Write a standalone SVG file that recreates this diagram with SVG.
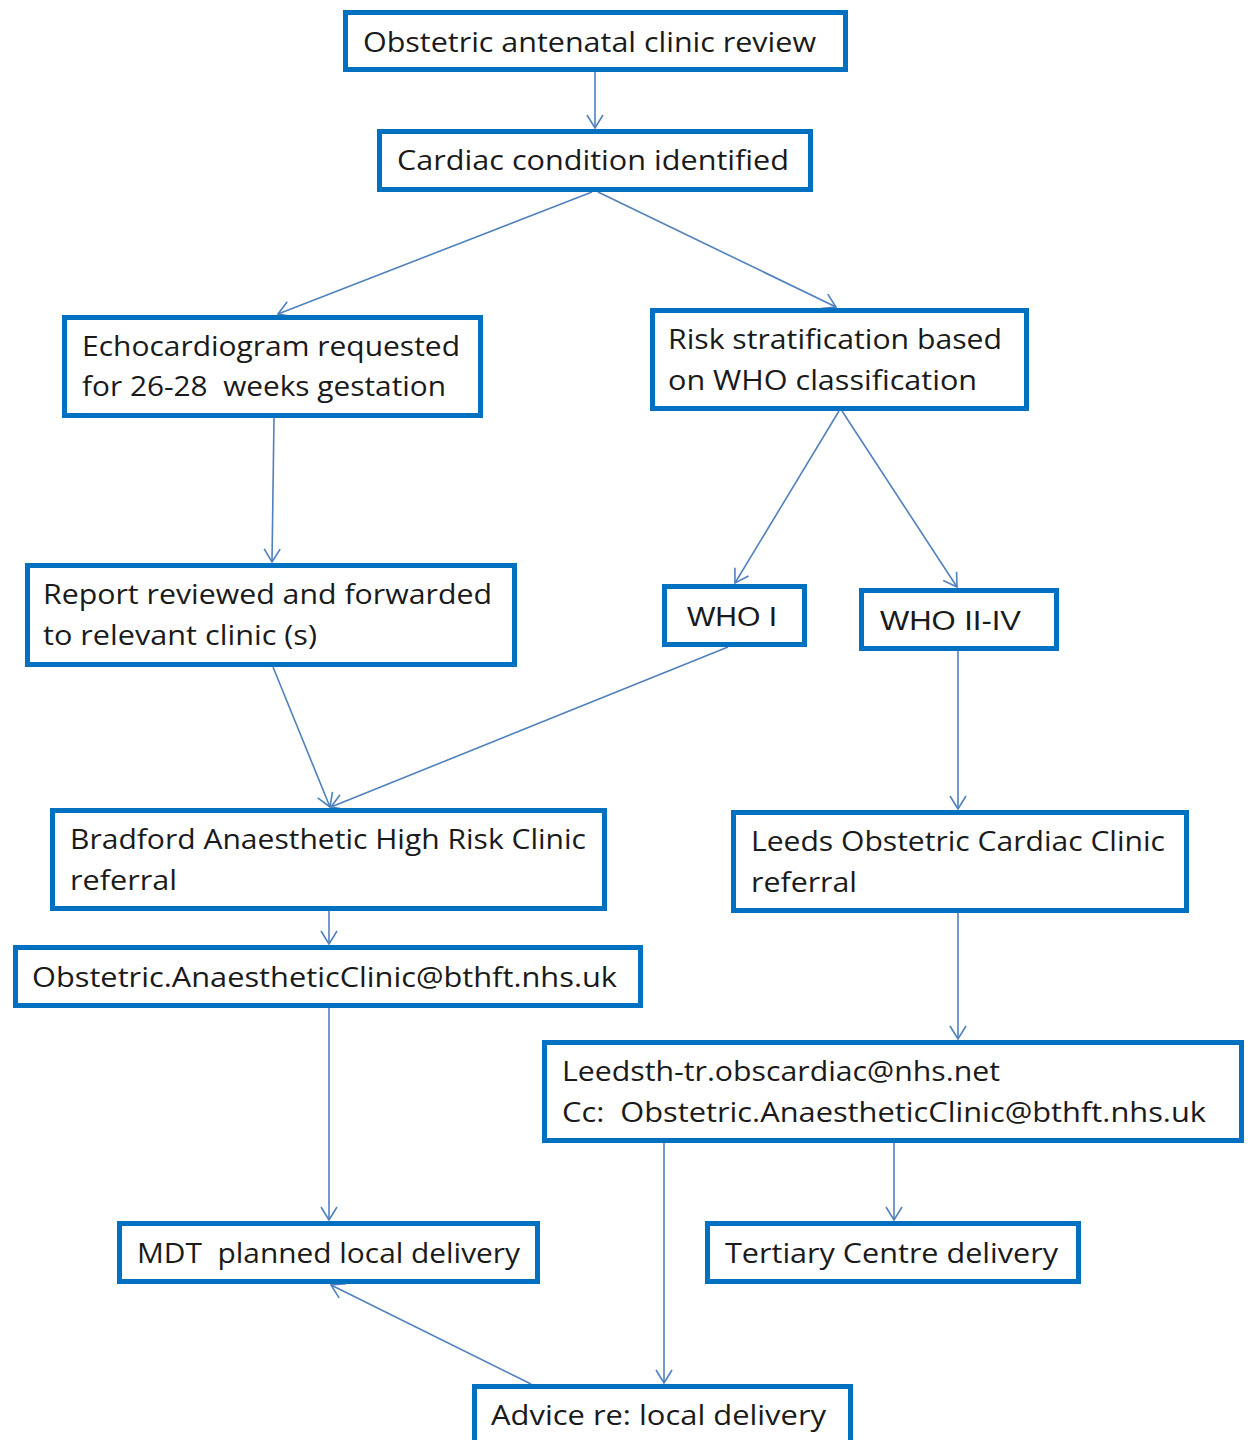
<svg xmlns="http://www.w3.org/2000/svg" width="1248" height="1440" viewBox="0 0 1248 1440">
<style>
.box{fill:#fff;stroke:#0070C0;stroke-width:5}
.t{font-family:"Open Sans","Liberation Sans",sans-serif;font-size:27px;fill:#1a1a1a}
.a{font-family:"Liberation Sans",Arial,sans-serif;font-size:27px;fill:#1a1a1a}
.c{stroke:#4F81BD;stroke-width:1.6;fill:none}
</style>
<defs>
<marker id="arr" markerUnits="userSpaceOnUse" markerWidth="16" markerHeight="18" viewBox="0 0 16 18" refX="14" refY="9" orient="auto">
<path d="M1,1 L14,9 L1,17" fill="none" stroke="#4F81BD" stroke-width="1.6"/>
</marker>
</defs>
<rect width="1248" height="1440" fill="#fff"/>
<g id="connectors">
<line class="c" x1="595" y1="72" x2="595" y2="128" marker-end="url(#arr)"/>
<line class="c" x1="592" y1="192" x2="278" y2="314" marker-end="url(#arr)"/>
<line class="c" x1="598" y1="192" x2="836" y2="307" marker-end="url(#arr)"/>
<line class="c" x1="274" y1="418" x2="272" y2="562" marker-end="url(#arr)"/>
<line class="c" x1="839" y1="411" x2="735" y2="583" marker-end="url(#arr)"/>
<line class="c" x1="842" y1="411" x2="957" y2="587" marker-end="url(#arr)"/>
<line class="c" x1="273" y1="667" x2="330" y2="807" marker-end="url(#arr)"/>
<line class="c" x1="728" y1="647" x2="331" y2="807" marker-end="url(#arr)"/>
<line class="c" x1="958" y1="651" x2="958" y2="809" marker-end="url(#arr)"/>
<line class="c" x1="329" y1="911" x2="329" y2="944" marker-end="url(#arr)"/>
<line class="c" x1="958" y1="913" x2="958" y2="1039" marker-end="url(#arr)"/>
<line class="c" x1="329" y1="1008" x2="329" y2="1220" marker-end="url(#arr)"/>
<line class="c" x1="894" y1="1143" x2="894" y2="1220" marker-end="url(#arr)"/>
<line class="c" x1="664" y1="1143" x2="664" y2="1383" marker-end="url(#arr)"/>
<line class="c" x1="531" y1="1384" x2="331" y2="1285" marker-end="url(#arr)"/>
</g>
<g id="n1"><rect class="box" x="345.5" y="12.5" width="500" height="57"/><text class="t" x="363" y="52" textLength="453" lengthAdjust="spacingAndGlyphs">Obstetric antenatal clinic review</text></g>
<g id="n2"><rect class="box" x="379.5" y="131.5" width="431" height="58"/><text class="t" x="397" y="170" textLength="392" lengthAdjust="spacingAndGlyphs">Cardiac condition identified</text></g>
<g id="n3"><rect class="box" x="64.5" y="317.5" width="416" height="98"/><text class="t" x="82" y="356" textLength="378" lengthAdjust="spacingAndGlyphs">Echocardiogram requested</text><text class="t" x="82" y="396" textLength="364" lengthAdjust="spacingAndGlyphs" xml:space="preserve">for 26-28  weeks gestation</text></g>
<g id="n4"><rect class="box" x="652.5" y="310.5" width="374" height="98"/><text class="t" x="668" y="349" textLength="334" lengthAdjust="spacingAndGlyphs">Risk stratification based</text><text class="t" x="668" y="390" textLength="309" lengthAdjust="spacingAndGlyphs">on WHO classification</text></g>
<g id="n5"><rect class="box" x="27.5" y="565.5" width="487" height="99"/><text class="t" x="43" y="604" textLength="449" lengthAdjust="spacingAndGlyphs">Report reviewed and forwarded</text><text class="t" x="43" y="645" textLength="274" lengthAdjust="spacingAndGlyphs">to relevant clinic (s)</text></g>
<g id="n6"><rect class="box" x="664.5" y="586.5" width="140" height="58"/><text class="a" x="687" y="626" textLength="90" lengthAdjust="spacingAndGlyphs">WHO I</text></g>
<g id="n7"><rect class="box" x="861.5" y="590.5" width="195" height="58"/><text class="a" x="880" y="630" textLength="141" lengthAdjust="spacingAndGlyphs">WHO II-IV</text></g>
<g id="n8"><rect class="box" x="52.5" y="810.5" width="552" height="98"/><text class="t" x="70" y="849" textLength="516" lengthAdjust="spacingAndGlyphs">Bradford Anaesthetic High Risk Clinic</text><text class="t" x="70" y="890" textLength="107" lengthAdjust="spacingAndGlyphs">referral</text></g>
<g id="n9"><rect class="box" x="733.5" y="812.5" width="453" height="98"/><text class="t" x="751" y="851" textLength="414" lengthAdjust="spacingAndGlyphs">Leeds Obstetric Cardiac Clinic</text><text class="t" x="751" y="892" textLength="106" lengthAdjust="spacingAndGlyphs">referral</text></g>
<g id="n10"><rect class="box" x="15.5" y="947.5" width="625" height="58"/><text class="t" x="32" y="987" textLength="585" lengthAdjust="spacingAndGlyphs">Obstetric.AnaestheticClinic@bthft.nhs.uk</text></g>
<g id="n11"><rect class="box" x="544.5" y="1042.5" width="697" height="98"/><text class="t" x="562" y="1081" textLength="438" lengthAdjust="spacingAndGlyphs">Leedsth-tr.obscardiac@nhs.net</text><text class="t" x="562" y="1122" textLength="644" lengthAdjust="spacingAndGlyphs" xml:space="preserve">Cc:  Obstetric.AnaestheticClinic@bthft.nhs.uk</text></g>
<g id="n12"><rect class="box" x="119.5" y="1223.5" width="418" height="58"/><text class="t" x="137" y="1263" textLength="383" lengthAdjust="spacingAndGlyphs" xml:space="preserve">MDT  planned local delivery</text></g>
<g id="n13"><rect class="box" x="707.5" y="1223.5" width="371" height="58"/><text class="t" x="725" y="1263" textLength="333" lengthAdjust="spacingAndGlyphs">Tertiary Centre delivery</text></g>
<g id="n14"><rect class="box" x="474.5" y="1386.5" width="376" height="80"/><text class="t" x="491" y="1425" textLength="335" lengthAdjust="spacingAndGlyphs">Advice re: local delivery</text></g>
</svg>
